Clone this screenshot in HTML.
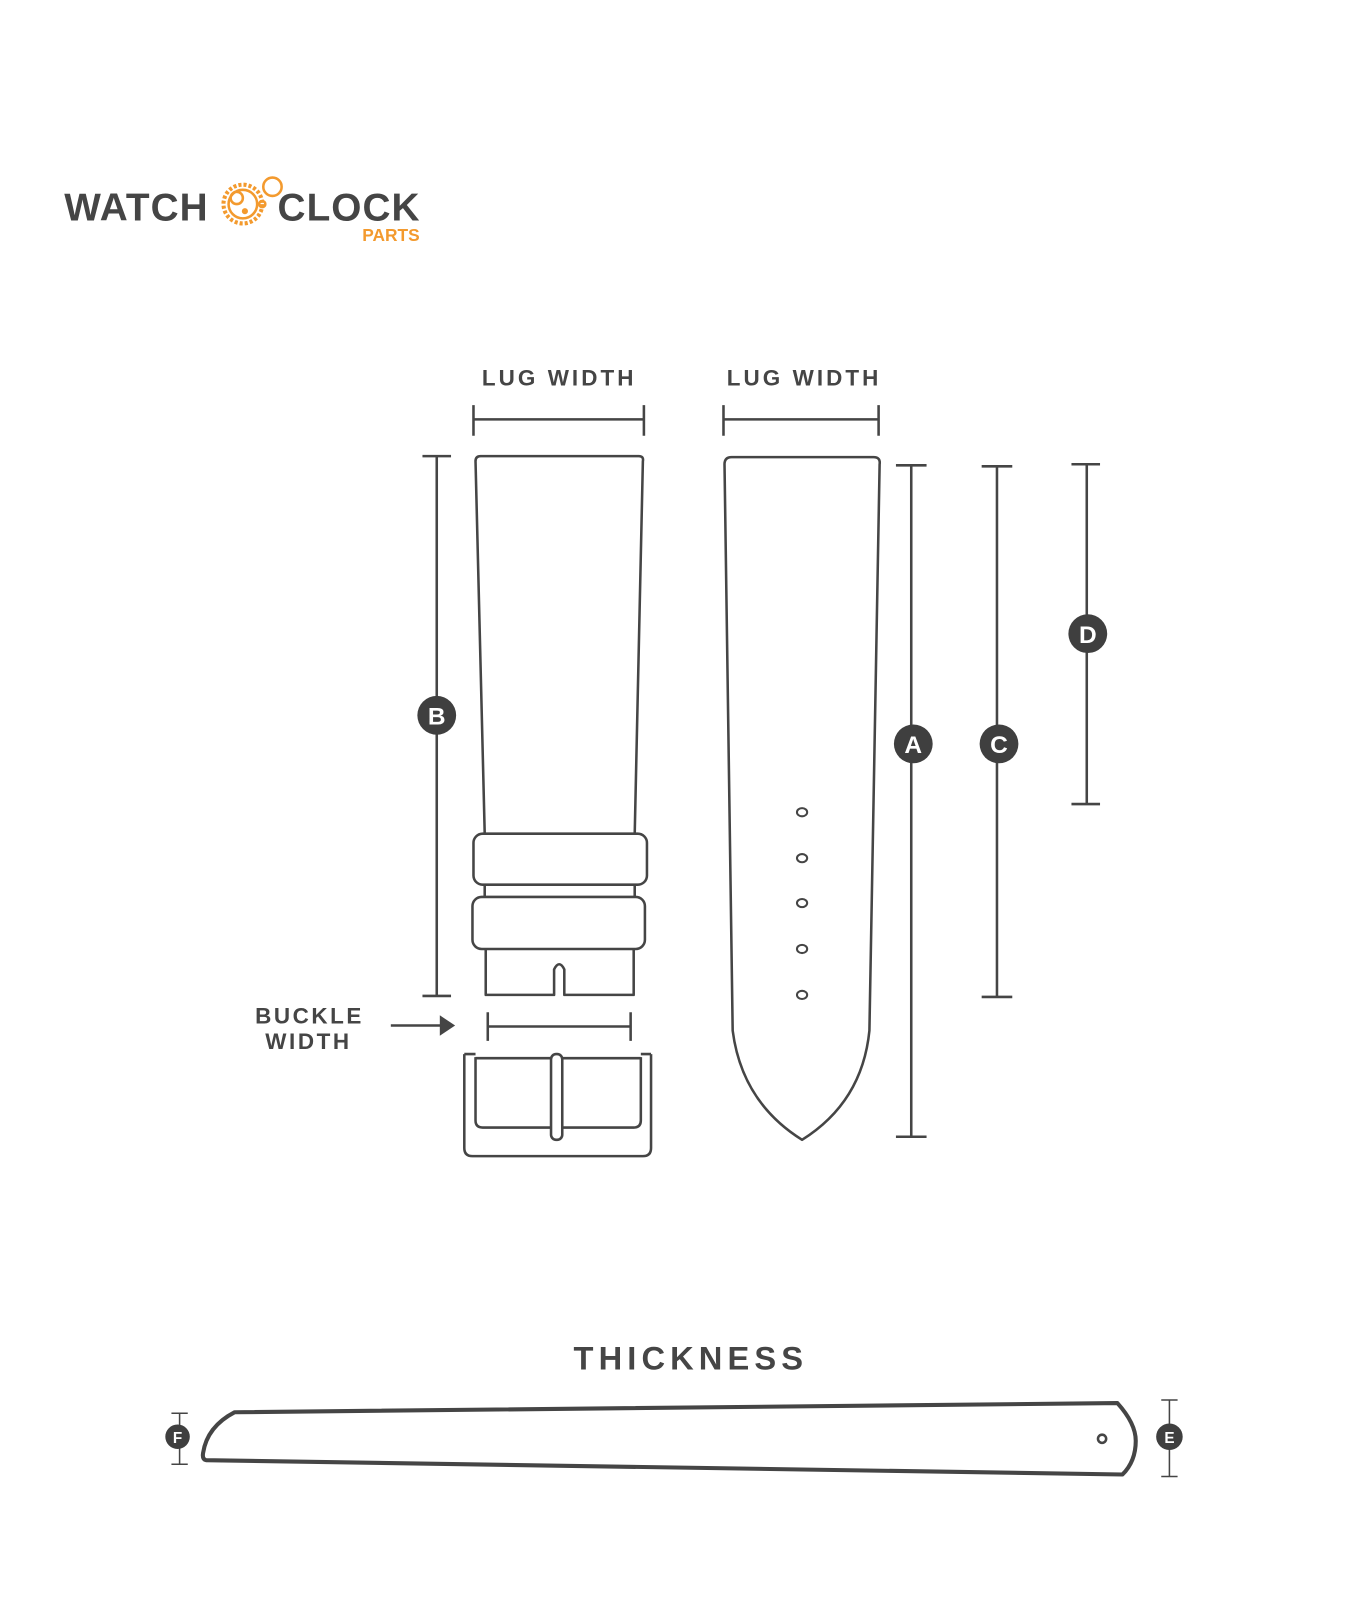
<!DOCTYPE html>
<html><head><meta charset="utf-8"><style>
html,body{margin:0;padding:0;background:#fff;}
svg{display:block;}
text{font-family:"Liberation Sans",sans-serif;font-weight:bold;}
</style></head><body>
<svg width="1348" height="1600" viewBox="0 0 1321 1568" preserveAspectRatio="none" xmlns="http://www.w3.org/2000/svg">
<rect width="1321" height="1568" fill="#fff"/>
<!-- logo -->
<text x="63" y="216" font-size="38" fill="#454545" letter-spacing="1">WATCH</text>
<g fill="none" stroke="#f39a2e" stroke-width="2.5">
<circle cx="238" cy="200" r="19" stroke-dasharray="3 2" stroke-width="4"/>
<circle cx="238" cy="200" r="14"/>
<circle cx="232" cy="194" r="6"/>
<circle cx="267" cy="183" r="9"/>
<circle cx="257" cy="200" r="3"/>
</g>
<circle cx="240" cy="207" r="3" fill="#f39a2e"/>
<text x="272" y="216" font-size="38" fill="#454545" letter-spacing="1">CLOCK</text>
<text x="355" y="236" font-size="17" fill="#f39a2e" font-weight="bold">PARTS</text>

<g fill="#454545" font-size="22" letter-spacing="3">
<text x="548" y="378" text-anchor="middle">LUG WIDTH</text>
<text x="788" y="378" text-anchor="middle">LUG WIDTH</text>
<text x="250" y="1003" letter-spacing="2.5">BUCKLE</text>
<text x="260" y="1028" letter-spacing="2.5">WIDTH</text>
</g>
<text x="677" y="1342" font-size="32" fill="#454545" letter-spacing="5" text-anchor="middle">THICKNESS</text>

<g fill="none" stroke="#454545" stroke-width="2.5" stroke-linejoin="round">
<path d="M464 411H631M464 397V427M631 397V427"/>
<path d="M709 411H861M709 397V427M861 397V427"/>
<path d="M475 817 L466 452 Q466 447 471 447 H626 Q631 447 630 452 L622 817"/>
<rect x="464" y="817" width="170" height="50" rx="9"/>
<rect x="463" y="879" width="169" height="51" rx="9"/>
<path d="M475 867V879M622 867V879"/>
<path d="M476 930V975H543V950Q548 940 553 950V975H621V930"/>
<path d="M478 1006H618M478 992V1020M618 992V1020"/>
<path d="M383 1005H432"/>
<path d="M455 1033V1125Q455 1133 463 1133H630Q638 1133 638 1125V1033"/>
<path d="M466 1036V1098Q466 1105 473 1105H621Q628 1105 628 1098V1036"/>
<path d="M455 1033H466M628 1033H638M466 1037H628"/>
<rect x="540" y="1033" width="11" height="84" rx="5" fill="#fff"/>
<path d="M718 1010 L710 455 Q710 448 717 448 H856 Q863 448 862 455 L852 1010 Q845 1080 786 1117 Q727 1080 718 1010 Z"/>
<path d="M428 447V976M414 447H442M414 976H442"/>
<path d="M893 456V1114M878 456H908M878 1114H908"/>
<path d="M977 457V977M962 457H992M962 977H992"/>
<path d="M1065 455V788M1050 455H1078M1050 788H1078"/>
<path d="M230 1384 L1095 1375 Q1113 1395 1113 1412 Q1113 1432 1100 1445 L202 1431 Q198 1430 199 1424 Q203 1398 230 1384 Z" stroke-width="4"/>
<path d="M176 1385V1435M168 1385H184M168 1435H184" stroke-width="1.5"/>
<path d="M1146 1372V1447M1138 1372H1154M1138 1447H1154" stroke-width="1.5"/>
</g>
<circle cx="1080" cy="1410" r="4" fill="none" stroke="#454545" stroke-width="2.5"/>
<g fill="none" stroke="#454545" stroke-width="2">
<ellipse cx="786" cy="796" rx="5" ry="4"/>
<ellipse cx="786" cy="841" rx="5" ry="4"/>
<ellipse cx="786" cy="885" rx="5" ry="4"/>
<ellipse cx="786" cy="930" rx="5" ry="4"/>
<ellipse cx="786" cy="975" rx="5" ry="4"/>
</g>
<polygon points="431,995 446,1005 431,1015" fill="#454545"/>
<g fill="#3f3f3f">
<circle cx="428" cy="701" r="19"/>
<circle cx="895" cy="729" r="19"/>
<circle cx="979" cy="729" r="19"/>
<circle cx="1066" cy="621" r="19"/>
<circle cx="174" cy="1408" r="12"/>
<circle cx="1146" cy="1408" r="13"/>
</g>
<g fill="#fff" font-size="24" text-anchor="middle">
<text x="428" y="710">B</text>
<text x="895" y="738">A</text>
<text x="979" y="738">C</text>
<text x="1066" y="630">D</text>
<text x="174" y="1414" font-size="15">F</text>
<text x="1146" y="1414" font-size="15">E</text>
</g>
</svg>
</body></html>
